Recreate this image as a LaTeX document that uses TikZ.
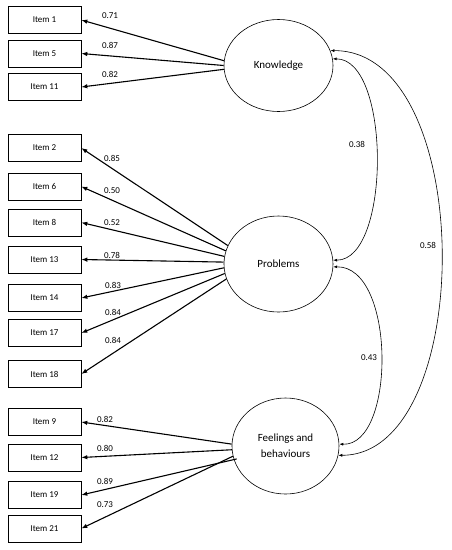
\documentclass[tikz,border=0pt]{standalone}
\usepackage{fontspec}
\setmainfont{Carlito}
\usetikzlibrary{arrows.meta}
\usetikzlibrary{shapes.geometric}

\begin{document}
\begin{tikzpicture}[x=1pt,y=-1pt,
	load/.style={line width=1.1pt,-{Latex[length=6pt,width=4.5pt]}},
	corr/.style={line width=0.6pt,{Latex[length=4pt,width=3pt]}-{Latex[length=4pt,width=3pt]}},
	coef/.style={font=\fontsize{9}{10}\selectfont}]
	\useasboundingbox (0,0) rectangle (451,550);
	\begin{scope}[every node/.style={draw,line width=0.6pt,minimum width=73pt,minimum height=27pt,inner sep=0pt,font=\fontsize{9}{10}\selectfont}]
	\node (i1) at (44.5,20) {Item 1};
	\node (i5) at (44.5,53.5) {Item 5};
	\node (i11) at (44.5,87) {Item 11};
	\node (i2) at (44.5,148) {Item 2};
	\node (i6) at (44.5,186.5) {Item 6};
	\node (i8) at (44.5,222.5) {Item 8};
	\node (i13) at (44.5,259.5) {Item 13};
	\node (i14) at (44.5,298) {Item 14};
	\node (i17) at (44.5,333) {Item 17};
	\node (i18) at (44.5,374) {Item 18};
	\node (i9) at (44.5,422) {Item 9};
	\node (i12) at (44.5,457.5) {Item 12};
	\node (i19) at (44.5,495) {Item 19};
	\node (i21) at (44.5,528.5) {Item 21};
	\end{scope}
	\begin{scope}[every node/.style={draw,ellipse,line width=0.6pt,minimum width=109pt,minimum height=92pt,inner sep=0pt,align=center,font=\fontsize{11}{16}\selectfont}]
	\node (K) at (278.5,65.5) {Knowledge};
	\node[minimum height=96pt] (P) at (278.5,264) {Problems};
	\node[minimum width=107pt,minimum height=96pt] (F) at (285.5,446) {Feelings and\\behaviours};
	\end{scope}
	\draw [load] (K.175) -- (i1.east);
	\draw [load] (K.180) -- (i5.east);
	\draw [load] (K.184) -- (i11.east);
	\draw [load] (P.160) -- (i2.east);
	\draw [load] (P.166) -- (i6.east);
	\draw [load] (P.172) -- (i8.east);
	\draw [load] (P.178) -- (i13.east);
	\draw [load] (P.184) -- (i14.east);
	\draw [load] (P.190) -- (i17.east);
	\draw [load] (P.196) -- (i18.east);
	\draw [load] (F.178) -- (i9.east);
	\draw [load] (F.184) -- (i12.east);
	\draw [load] ([xshift=3pt]F.194) -- (i19.east);
	\draw [load] (F.191) -- (i21.east);
	\draw [corr] (K.7) .. controls (391,59) and (391,260) .. (P.4);
	\draw [corr] (P.-3) .. controls (396,266) and (396,446) .. (F.2);
	\draw [corr] (K.16) .. controls (477,50) and (477,455) .. (F.-10);
	\node[coef] (l1) at (110,16) {0.71};
	\node[coef] (l5) at (110,45) {0.87};
	\node[coef] (l11) at (110,74) {0.82};
	\node[coef] (l2) at (112,158) {0.85};
	\node[coef] (l6) at (112,191) {0.50};
	\node[coef] (l8) at (112,223) {0.52};
	\node[coef] (l13) at (112,255) {0.78};
	\node[coef] (l14) at (113,285) {0.83};
	\node[coef] (l17) at (113,312) {0.84};
	\node[coef] (l18) at (113,340) {0.84};
	\node[coef] (l9) at (105,419) {0.82};
	\node[coef] (l12) at (105,448) {0.80};
	\node[coef] (l19) at (105,481) {0.89};
	\node[coef] (l21) at (105,505) {0.73};
	\node[coef] (kp) at (357,144) {0.38};
	\node[coef] (pf) at (369,358) {0.43};
	\node[coef] (kf) at (428,245) {0.58};
\end{tikzpicture}
\end{document}
